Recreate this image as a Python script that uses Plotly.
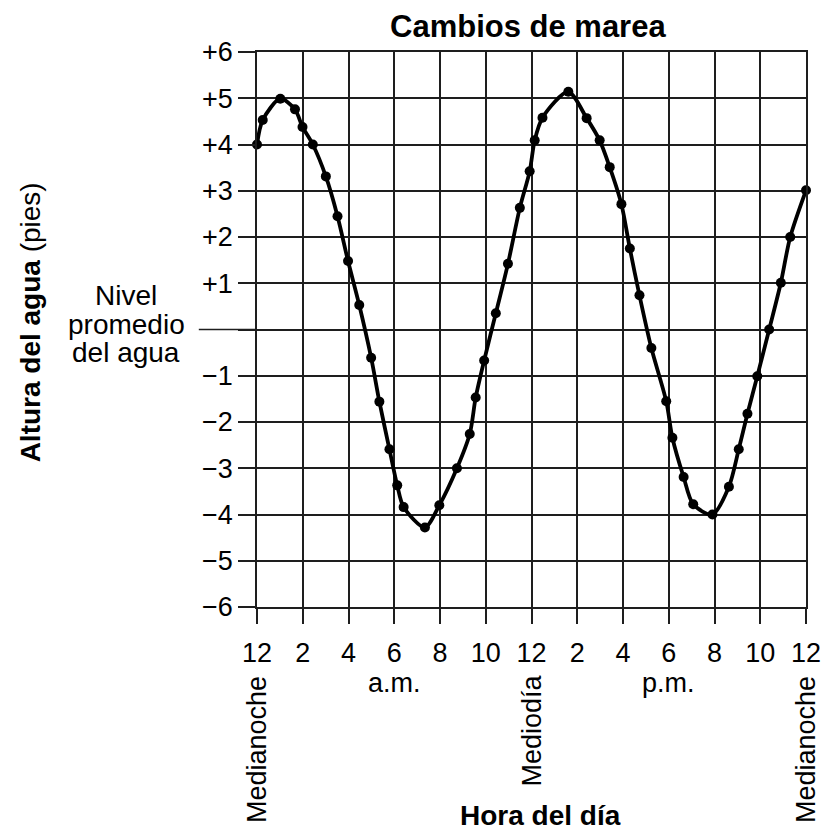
import plotly.graph_objects as go

hours = [0, 0.25, 1.02, 1.66, 1.99, 2.44, 3.01, 3.52, 3.98, 4.47, 4.99, 5.35,
         5.79, 6.13, 6.41, 7.34, 7.97, 8.74, 9.30, 9.56, 9.93, 10.44, 10.97,
         11.49, 11.92, 12.14, 12.48, 13.61, 14.41, 14.98, 15.42, 15.93, 16.30,
         16.72, 17.24, 17.89, 18.16, 18.65, 19.07, 19.91, 20.63, 21.06, 21.44,
         21.87, 22.39, 22.90, 23.31, 24.0]
heights = [4.0, 4.53, 4.99, 4.76, 4.38, 4.0, 3.31, 2.45, 1.48, 0.53, -0.61,
           -1.56, -2.59, -3.37, -3.84, -4.28, -3.80, -3.0, -2.26, -1.47, -0.67,
           0.35, 1.42, 2.63, 3.42, 4.09, 4.58, 5.14, 4.57, 4.09, 3.51, 2.71,
           1.75, 0.74, -0.40, -1.55, -2.34, -3.19, -3.78, -4.0, -3.40, -2.59,
           -1.82, -1.01, 0.0, 1.01, 2.0, 3.01]

x_tickvals = list(range(0, 25, 2))
x_ticktext = ["12", "2", "4", "6", "8", "10", "12", "2", "4", "6", "8", "10", "12"]
y_tickvals = list(range(-6, 7))
y_ticktext = ["\u22126", "\u22125", "\u22124", "\u22123", "\u22122", "\u22121", "",
              "+1", "+2", "+3", "+4", "+5", "+6"]

FONT = "Liberation Sans, Arial, Helvetica, sans-serif"
LINE = "#1e1e1e"

fig = go.Figure()
fig.add_trace(go.Scatter(
    x=hours, y=heights, mode="lines+markers",
    line=dict(color="black", width=3.8, shape="spline", smoothing=0.8),
    marker=dict(color="black", size=10),
    hoverinfo="skip", showlegend=False, cliponaxis=False,
))

fig.update_layout(
    width=825, height=824,
    margin=dict(l=249, r=21, t=44, b=225),
    paper_bgcolor="white", plot_bgcolor="white",
    font=dict(family=FONT, size=27, color="black"),
    showlegend=False,
)
fig.update_xaxes(
    range=[0, 24], tickvals=x_tickvals, ticktext=x_ticktext,
    showgrid=True, gridcolor=LINE, gridwidth=1.6,
    showline=True, linecolor=LINE, linewidth=1.6, mirror=True,
    ticks="outside", ticklen=15, tickwidth=1.6, tickcolor=LINE,
    tickfont=dict(size=27), tickangle=0, zeroline=False,
    ticklabelstandoff=6,
)
fig.update_yaxes(
    range=[-6, 6], tickvals=y_tickvals, ticktext=y_ticktext,
    showgrid=True, gridcolor=LINE, gridwidth=1.6,
    showline=True, linecolor=LINE, linewidth=1.6, mirror=True,
    ticks="outside", ticklen=17, tickwidth=1.6, tickcolor=LINE,
    tickfont=dict(size=27), zeroline=False,
)

# extended tick at mean water level
fig.add_shape(type="line", xref="paper", yref="y", x0=-0.106, x1=0, y0=0, y1=0,
              line=dict(color=LINE, width=1.6), layer="above")

ann = []
ann.append(dict(text="<b>Cambios de marea</b>", xref="paper", yref="paper",
                x=0.494, y=1.0, yshift=26, xanchor="center", yanchor="middle",
                showarrow=False, font=dict(size=31)))
for txt, yv in [("Nivel", 0.73), ("promedio", 0.11), ("del agua", -0.50)]:
    ann.append(dict(text=txt, xref="paper", yref="y", x=-0.238, y=yv,
                    xanchor="center", yanchor="middle", showarrow=False,
                    font=dict(size=28)))
ann.append(dict(text="<b>Altura del agua</b> (pies)", xref="paper", yref="y",
                x=-0.412, y=0.15, xanchor="center", yanchor="middle",
                textangle=-90, showarrow=False, font=dict(size=28)))
ann.append(dict(text="a.m.", xref="x", yref="paper", x=6, y=0, yshift=-76,
                xanchor="center", yanchor="middle", showarrow=False,
                font=dict(size=27)))
ann.append(dict(text="p.m.", xref="x", yref="paper", x=18, y=0, yshift=-76,
                xanchor="center", yanchor="middle", showarrow=False,
                font=dict(size=27)))
for txt, xv, ys in [("Medianoche", 0, -143), ("Mediod\u00eda", 12, -124),
                    ("Medianoche", 24, -143)]:
    ann.append(dict(text=txt, xref="x", yref="paper", x=xv, y=0, yshift=ys,
                    xanchor="center", yanchor="middle", textangle=-90,
                    showarrow=False, font=dict(size=27)))
ann.append(dict(text="<b>Hora del d\u00eda</b>", xref="paper", yref="paper",
                x=0.5155, y=0, yshift=-208, xanchor="center", yanchor="middle",
                showarrow=False, font=dict(size=28)))
fig.update_layout(annotations=ann)

fig.write_html("out.html")
